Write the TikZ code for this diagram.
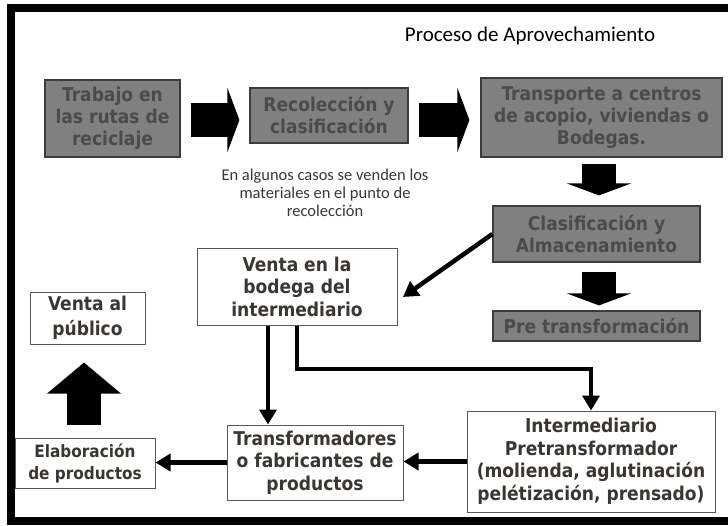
\documentclass[tikz,border=0pt]{standalone}
\usepackage{fontspec}
\setmainfont{DejaVu Sans Condensed}
\newfontfamily\notefont{Carlito}
\usetikzlibrary{arrows.meta}
\definecolor{boxgray}{HTML}{808080}
\definecolor{boxline}{HTML}{3C3C3C}
\definecolor{graytext}{HTML}{4B4B4B}
\definecolor{darktext}{HTML}{3A3632}
\tikzset{
  graybox/.style={draw=boxline, line width=1.2pt, fill=boxgray, text=graytext, align=center, inner sep=0pt,
    font=\bfseries\fontsize{19}{22}\selectfont},
  whitebox/.style={draw=black!65, line width=1pt, fill=white, text=darktext, align=center, inner sep=0pt,
    font=\bfseries\fontsize{19}{22.5}\selectfont},
  bigarrow/.style={line width=34pt, -{Triangle[length=12pt,width=64pt]}},
  link/.style={line width=4.5pt, -{Triangle[length=15pt,width=17pt]}}
}
\begin{document}
\begin{tikzpicture}[x=1pt, y=-1pt, line join=miter]
\useasboundingbox (0,0) rectangle (728,525);
\draw[line width=8pt] (11,7.5) rectangle (745,521);
% titulo y nota
\node[font=\notefont\fontsize{21}{24}\selectfont] (titulo) at (530,36) {Proceso de Aprovechamiento};
\node[font=\notefont\fontsize{16.5}{18}\selectfont, align=center, text=darktext] (nota) at (325,193)
  {En algunos casos se venden los\\materiales en el punto de\\recolección};
% cajas grises
\node[graybox, minimum width=135pt, minimum height=77pt] (trabajo) at (112.5,118.5) {Trabajo en\\las rutas de\\reciclaje};
\node[graybox, minimum width=158pt, minimum height=55pt] (recol) at (329,115.5) {Recolección y\\clasificación};
\node[graybox, minimum width=241pt, minimum height=79pt] (transp) at (601.5,117.5) {Transporte a centros\\de acopio, viviendas o\\Bodegas.};
\node[graybox, minimum width=207pt, minimum height=56pt] (clasif) at (596.5,234) {Clasificación y\\Almacenamiento};
\node[graybox, minimum width=207pt, minimum height=30pt] (pretr) at (596.5,326) {Pre transformación};
% cajas blancas
\node[whitebox, minimum width=200pt, minimum height=77pt] (venta) at (297,286.5) {Venta en la\\bodega del\\intermediario};
\node[whitebox, minimum width=115pt, minimum height=52pt, font=\bfseries\fontsize{19}{25}\selectfont] (publico) at (87.5,318) {Venta al\\público};
\node[whitebox, minimum width=140pt, minimum height=50pt, font=\bfseries\fontsize{17}{22}\selectfont] (elab) at (85,463) {Elaboración\\de productos};
\node[whitebox, minimum width=176pt, minimum height=75pt] (transf) at (315,462.5) {Transformadores\\o fabricantes de\\productos};
\node[whitebox, minimum width=248pt, minimum height=101pt] (inter) at (591,461.5) {Intermediario\\Pretransformador\\(molienda, aglutinación\\pelétización, prensado)};
% flechas gruesas
\coordinate (fila) at (0,120);
\coordinate (colder) at (599,0);
\coordinate (colizq) at (84,0);
\draw[bigarrow, shorten <=10pt, shorten >=10pt] (trabajo.east |- fila) -- (recol.west |- fila);
\draw[bigarrow, shorten <=10pt, shorten >=11pt] (recol.east |- fila) -- (transp.west |- fila);
\draw[bigarrow, shorten <=6pt, shorten >=10pt] (transp.south -| colder) -- (clasif.north -| colder);
\draw[bigarrow, shorten <=9pt, shorten >=5pt] (clasif.south -| colder) -- (pretr.north -| colder);
\draw[bigarrow, -{Triangle[length=31pt,width=72pt]}, shorten <=13pt, shorten >=18pt]
  (elab.north -| colizq) -- (publico.south -| colizq);
% conectores
\coordinate (ventain) at (403,297);
\coordinate (codo) at (0,369);
\draw[link] (clasif.west) -- (ventain);
\draw[link] ([xshift=-29pt]venta.south) -- ([xshift=-29pt]venta.south |- transf.north);
\draw[link] (venta.south) |- (codo -| inter.north) -- (inter.north);
\draw[link] (inter.west) -- (inter.west -| transf.east);
\draw[link] (transf.west) -- (transf.west -| elab.east);
\end{tikzpicture}
\end{document}
